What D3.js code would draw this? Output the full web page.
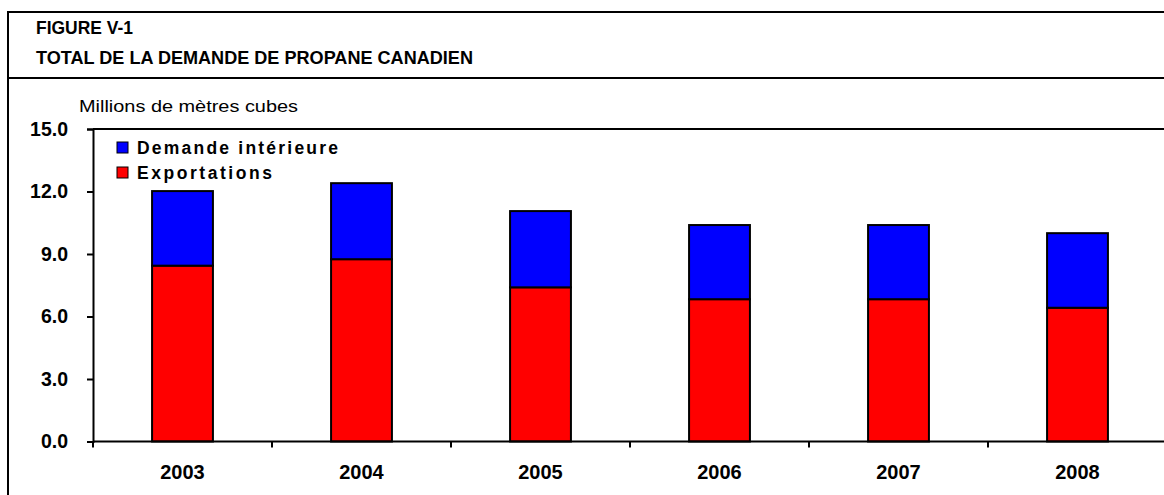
<!DOCTYPE html>
<html>
<head>
<meta charset="utf-8">
<script src="https://cdn.jsdelivr.net/npm/d3@7"></script>
<style>
  body { margin: 0; background: #fff; }
  svg { display: block; font-family: "Liberation Sans", Arial, sans-serif; }
</style>
</head>
<body>
<svg id="chart"></svg>
<script>
// données
const annees = ["2003", "2004", "2005", "2006", "2007", "2008"];
const exportations = [8.44, 8.75, 7.40, 6.83, 6.83, 6.42];
const demandeInterieure = [3.58, 3.65, 3.66, 3.56, 3.56, 3.58];
const yTicks = [0, 3, 6, 9, 12, 15];
const series = ["Demande intérieure", "Exportations"];
const couleurs = ["#0000ff", "#ff0000"];

const width = 1164, height = 495;
const svg = d3.select("#chart").attr("width", width).attr("height", height);

// cadre
svg.append("line").attr("x1", 8).attr("x2", width).attr("y1", 12).attr("y2", 12)
  .attr("stroke", "#000").attr("stroke-width", 2);
svg.append("line").attr("x1", 8).attr("x2", width).attr("y1", 78).attr("y2", 78)
  .attr("stroke", "#000").attr("stroke-width", 2);
svg.append("line").attr("x1", 8).attr("x2", 8).attr("y1", 11).attr("y2", height)
  .attr("stroke", "#000").attr("stroke-width", 2);

// titres
svg.append("text").attr("x", 36).attr("y", 34)
  .attr("font-weight", "bold").attr("font-size", 17.5)
  .attr("textLength", 97).attr("lengthAdjust", "spacingAndGlyphs")
  .text("FIGURE V-1");
svg.append("text").attr("x", 36).attr("y", 64)
  .attr("font-weight", "bold").attr("font-size", 17.5)
  .attr("textLength", 437).attr("lengthAdjust", "spacingAndGlyphs")
  .text("TOTAL DE LA DEMANDE DE PROPANE CANADIEN");
svg.append("text").attr("x", 79).attr("y", 112)
  .attr("font-size", 17)
  .attr("textLength", 219).attr("lengthAdjust", "spacingAndGlyphs")
  .text("Millions de mètres cubes");

// échelles
const gauche = 93, haut = 129, bas = 441.5;
const x = d3.scaleBand().domain(annees).range([gauche, gauche + 179 * annees.length])
  .paddingInner(0.66).paddingOuter(0.33);
const y = d3.scaleLinear().domain([0, 15]).range([bas, haut]);

// barres empilées
const donnees = annees.map((a, i) => ({annee: a, exp: exportations[i], dom: demandeInterieure[i]}));
const stack = d3.stack().keys(["exp", "dom"])(donnees);
const coul = {exp: "#ff0000", dom: "#0000ff"};

stack.forEach(s => {
  svg.append("g").selectAll("rect").data(s).enter().append("rect")
    .attr("x", d => x(d.data.annee))
    .attr("width", x.bandwidth())
    .attr("y", d => y(d[1]))
    .attr("height", d => y(d[0]) - y(d[1]))
    .attr("fill", coul[s.key])
    .attr("stroke", "#000").attr("stroke-width", 2);
});

// axe y
const yAxis = svg.append("g").attr("transform", `translate(${gauche},0)`)
  .call(d3.axisLeft(y).tickValues(yTicks).tickFormat(d3.format(".1f")).tickSize(6).tickPadding(19));
yAxis.select(".domain").attr("stroke-width", 2);
yAxis.selectAll(".tick line").attr("stroke-width", 2);
yAxis.selectAll("text").attr("font-size", 19.5).attr("font-weight", "bold")
  .attr("font-family", "Liberation Sans, Arial, sans-serif").attr("fill", "#000");

// haut de la zone
svg.append("line").attr("x1", gauche).attr("x2", width).attr("y1", haut).attr("y2", haut)
  .attr("stroke", "#000").attr("stroke-width", 2);

// axe x
const xAxis = svg.append("g").attr("transform", `translate(0,${bas})`)
  .call(d3.axisBottom(x).tickSize(0).tickPadding(23));
xAxis.select(".domain").attr("d", `M${gauche},0H${width}`).attr("stroke-width", 2);
xAxis.selectAll("text").attr("font-size", 20).attr("font-weight", "bold")
  .attr("font-family", "Liberation Sans, Arial, sans-serif").attr("fill", "#000");
// graduations entre catégories
svg.append("g").selectAll("line").data(d3.range(annees.length + 1)).enter().append("line")
  .attr("x1", i => gauche + i * x.step()).attr("x2", i => gauche + i * x.step())
  .attr("y1", bas).attr("y2", bas + 6)
  .attr("stroke", "#000").attr("stroke-width", 2);

// légende
const largeurs = [201, 135];
const leg = svg.append("g").selectAll("g").data(series).enter().append("g")
  .attr("transform", (d, i) => `translate(117,${142 + i * 25})`);
leg.append("rect").attr("width", 11).attr("height", 11)
  .attr("fill", (d, i) => couleurs[i]).attr("stroke", "#000").attr("stroke-width", 1);
leg.append("text").attr("x", 20).attr("y", 12)
  .attr("font-size", 17.5).attr("font-weight", "bold")
  .attr("textLength", (d, i) => largeurs[i]).attr("lengthAdjust", "spacing")
  .text(d => d);
</script>
</body>
</html>
